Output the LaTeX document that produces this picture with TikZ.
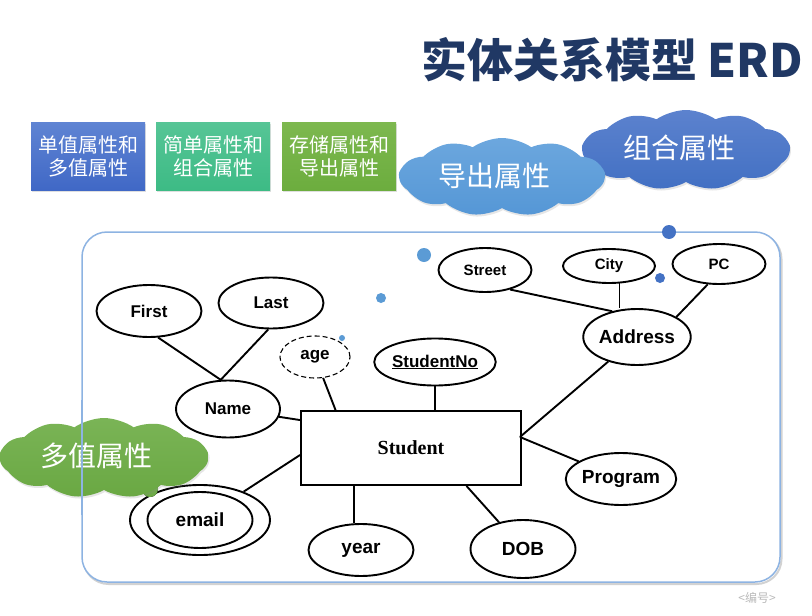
\documentclass[tikz,border=0pt]{standalone}
\usepackage{fontspec}
\setmainfont{Liberation Sans}
\newfontfamily\cjk{Noto Sans CJK SC}
\newfontfamily\timesf{Liberation Serif}
\usetikzlibrary{shapes.geometric,shapes.symbols,calc,shadows}

\definecolor{titleblue}{HTML}{203864}
\definecolor{framecol}{HTML}{8DB3E2}
\definecolor{dotlight}{HTML}{5B9BD5}
\definecolor{dotdark}{HTML}{4472C4}

\begin{document}
\begin{tikzpicture}[x=1pt,y=-1pt,
  tagbox/.style={minimum width=114pt,minimum height=68pt,inner sep=0,align=center,
    text=white,font=\cjk\fontsize{20}{23}\selectfont,
    drop shadow={opacity=0.25,shadow xshift=1pt,shadow yshift=-1.5pt}},
  bubble/.style={cloud,cloud puffs=11,cloud puff arc=70,cloud ignores aspect,
    inner sep=0,text=white,font=\cjk\fontsize{28}{28}\selectfont,
    drop shadow={opacity=0.2,shadow xshift=1pt,shadow yshift=-2pt}},
  attr/.style={ellipse,draw,line width=1.9pt,inner sep=0,fill=white,
    font=\bfseries\fontsize{17}{17}\selectfont},
  big/.style={font=\bfseries\fontsize{19}{19}\selectfont},
  small/.style={font=\bfseries\fontsize{15}{15}\selectfont},
  link/.style={line width=1.9pt}]

\useasboundingbox (0,0) rectangle (812,616);

% heading
\node[text=titleblue,font=\cjk\bfseries\fontsize{46}{46}\selectfont] (title) at (612,60) {实体关系模型 ERD};

% three category tags
\node[tagbox,top color={rgb,255:red,95;green,132;blue,211},bottom color={rgb,255:red,64;green,104;blue,198}] (tag1) at (88,156) {单值属性和\\多值属性};
\node[tagbox,top color={rgb,255:red,86;green,197;blue,150},bottom color={rgb,255:red,61;green,187;blue,133}] (tag2) at (213,156) {简单属性和\\组合属性};
\node[tagbox,top color={rgb,255:red,125;green,184;blue,79},bottom color={rgb,255:red,108;green,173;blue,62}] (tag3) at (339,156) {存储属性和\\导出属性};

% ERD frame (shadow first, then outline)
\draw[gray!35,line width=2pt,rounded corners=25pt] (83.5,234) rectangle (781.5,584);
\draw[framecol,line width=1.5pt,rounded corners=25pt,fill=white] (82,232) rectangle (780,582);

% decorative dots
\fill[dotlight] (424,255) circle[radius=7];
\fill[dotdark] (669,232) circle[radius=7];
\fill[dotlight] (381,298) circle[radius=5];
\fill[dotdark] (660,278) circle[radius=5];
\fill[dotlight] (342,338) circle[radius=3];
\fill[dotdark] (652,320) circle[radius=3];

% entity
\node[draw,line width=1.9pt,minimum width=220pt,minimum height=74pt,inner sep=0,
  font=\timesf\bfseries\fontsize{20}{20}\selectfont] (stu) at (411,448) {Student};

% attributes
\node[attr,minimum width=105pt,minimum height=52pt] (first) at (149,311) {First};
\node[attr,minimum width=105pt,minimum height=51pt] (last) at (271,303) {Last};
\node[attr,minimum width=104pt,minimum height=57pt] (name) at (228,409) {Name};
\node[attr,dashed,line width=1.1pt,dash pattern=on 5pt off 3pt,minimum width=70pt,minimum height=42pt] (age) at (315,357) {age};
\node[attr,minimum width=105pt,minimum height=47pt] (sno) at (435,362) {\underline{StudentNo}};
\node[attr,small,minimum width=93pt,minimum height=44pt] (street) at (485,270) {Street};
\node[attr,small,minimum width=92pt,minimum height=34pt] (city) at (609,266) {City};
\node[attr,small,minimum width=93pt,minimum height=40pt] (pc) at (719,264) {PC};
\node[attr,big,minimum width=104pt,minimum height=56pt] (addr) at (637,337) {Address};
\node[attr,big,minimum width=104pt,minimum height=52pt] (prog) at (621,479) {Program};
\node[attr,big,minimum width=105pt,minimum height=58pt] (dob) at (523,549) {DOB};
\node[attr,big,minimum width=105pt,minimum height=52pt] (year) at (361,550) {year};
\node[attr,minimum width=140pt,minimum height=70pt] (emailo) at (200,520) {};
\node[attr,big,minimum width=105pt,minimum height=56pt] (email) at (200,520) {email};

% connection points on the entity
\coordinate (jr) at ($(stu.east)+(-2,-11)$);
\coordinate (jage) at ($(stu.north west)!0.16!(stu.north east)$);
\coordinate (jyear) at ($(stu.south west)!0.245!(stu.south east)$);
\coordinate (jdob) at ($(stu.south east)!0.25!(stu.south west)$);
\coordinate (jname) at ($(stu.north west)+(0,10)$);
\coordinate (jmail) at ($(stu.west)+(0,7)$);

% connectors
\draw[link] (first.-71) -- (name.104);
\draw[link] (last.-96) -- (name.104);
\draw[link] (name) -- (jname);
\draw[link] (age) -- (jage);
\draw[link] (sno.south) -- (sno.south |- stu.north);
\draw[link] (jr) -- (addr);
\draw[link] (jr) -- (prog);
\draw[link] (jdob) -- (dob);
\draw[link] (jyear) -- (jyear |- year.north);
\draw[link] (jmail) -- (emailo);
\draw[link] (street.-38) -- (addr.134);
\draw[link] (city.-59) -- (city.-59 |- addr.north);
\draw[link] (pc.-119) -- (addr.27);

% callout clouds
\node[bubble,minimum width=207pt,minimum height=80pt,
  top color={rgb,255:red,92;green,130;blue,206},bottom color={rgb,255:red,66;green,112;blue,195}] (cloudc) at (686,150) {};
\node[text=white,font=\cjk\fontsize{28}{28}\selectfont] (cloudct) at (679,148) {组合属性};
\node[bubble,minimum width=205pt,minimum height=78pt,
  top color={rgb,255:red,108;green,167;blue,222},bottom color={rgb,255:red,85;green,151;blue,214}] (cloudd) at (502,177) {};
\node[text=white,font=\cjk\fontsize{28}{28}\selectfont] (clouddt) at (494,176) {导出属性};
\fill[top color={rgb,255:red,122;green,180;blue,86},bottom color={rgb,255:red,106;green,168;blue,67}] (150,489) circle[radius=8];
\node[bubble,minimum width=208pt,minimum height=80pt,
  top color={rgb,255:red,122;green,180;blue,86},bottom color={rgb,255:red,106;green,168;blue,67}] (cloudm) at (104,458) {};
\node[text=white,font=\cjk\fontsize{28}{28}\selectfont] (cloudmt) at (97,456) {多值属性};

% frame edge over the green cloud
\draw[framecol,line width=1.5pt] (82,400) -- (82,515);

% page number placeholder
\node[text=gray!55,font=\cjk\fontsize{12}{12}\selectfont] (pgno) at (757,598) {<编号>};
\end{tikzpicture}
\end{document}
